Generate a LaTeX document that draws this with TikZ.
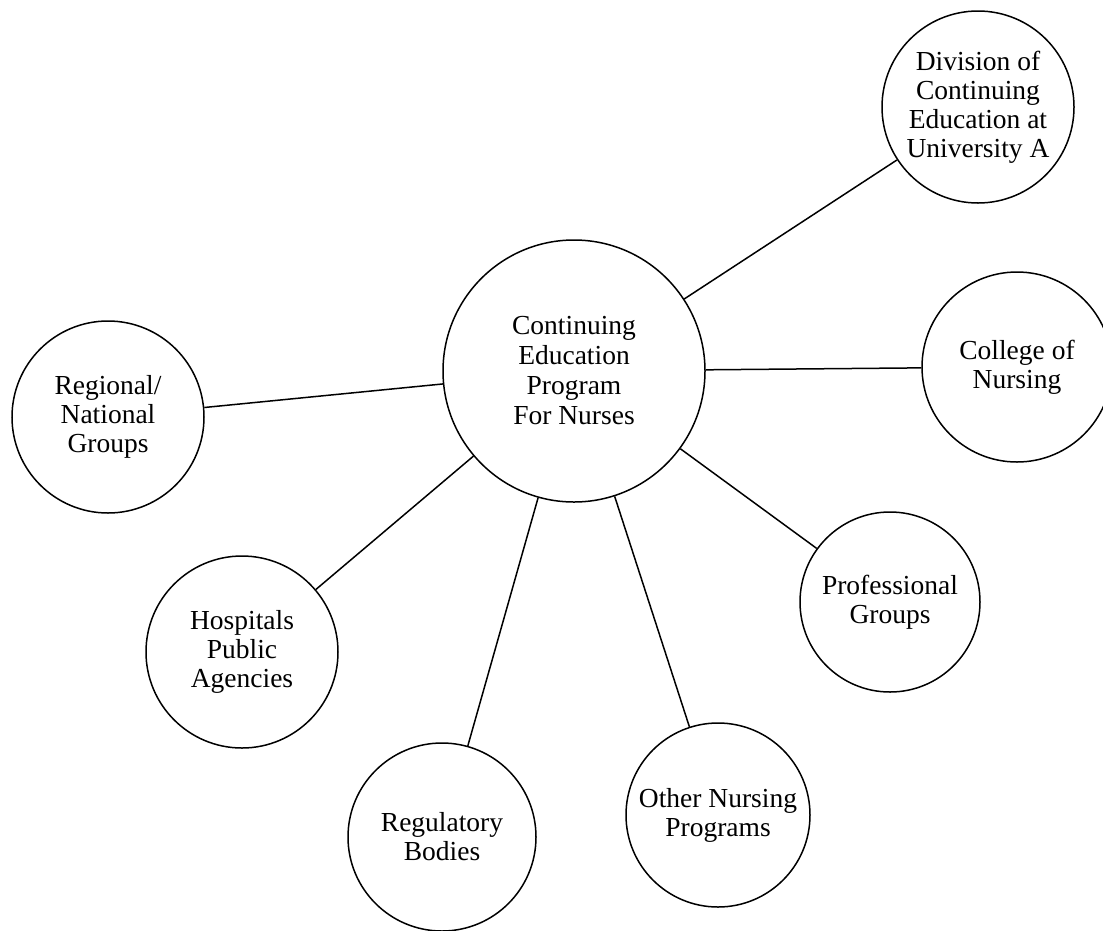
\documentclass[tikz,border=0pt]{standalone}
\usepackage{fontspec}
\setmainfont{Liberation Serif}
\begin{document}
\begin{tikzpicture}[x=1pt,y=-1pt,
  bub/.style={draw, circle, line width=1.5pt, inner sep=0pt, align=center,
    font=\fontsize{27.5}{29}\selectfont},
  conn/.style={line width=1.5pt}]
\clip (0,0) rectangle (1103,930);
\fill[white] (0,0) rectangle (1103,930);
\node[bub, minimum size=262pt, font=\fontsize{27.5}{30}\selectfont] (c) at (574,371) {Continuing\\Education\\Program\\For Nurses};
\node[bub, minimum size=192pt] (div) at (978,107) {Division of\\Continuing\\Education at\\University A};
\node[bub, minimum size=190pt] (col) at (1017,367) {College of\\Nursing};
\node[bub, minimum size=180pt] (pro) at (890,602) {Professional\\Groups};
\node[bub, minimum size=184pt] (oth) at (718,815) {Other Nursing\\Programs};
\node[bub, minimum size=188pt] (reg) at (442,837) {Regulatory\\Bodies};
\node[bub, minimum size=192pt] (hos) at (242,652) {Hospitals\\Public\\Agencies};
\node[bub, minimum size=192pt] (nat) at (108,417) {Regional/\\National\\Groups};
\foreach \t in {div,col,pro,oth,reg,hos,nat}
  \draw[conn] (c) -- (\t);
\end{tikzpicture}
\end{document}
